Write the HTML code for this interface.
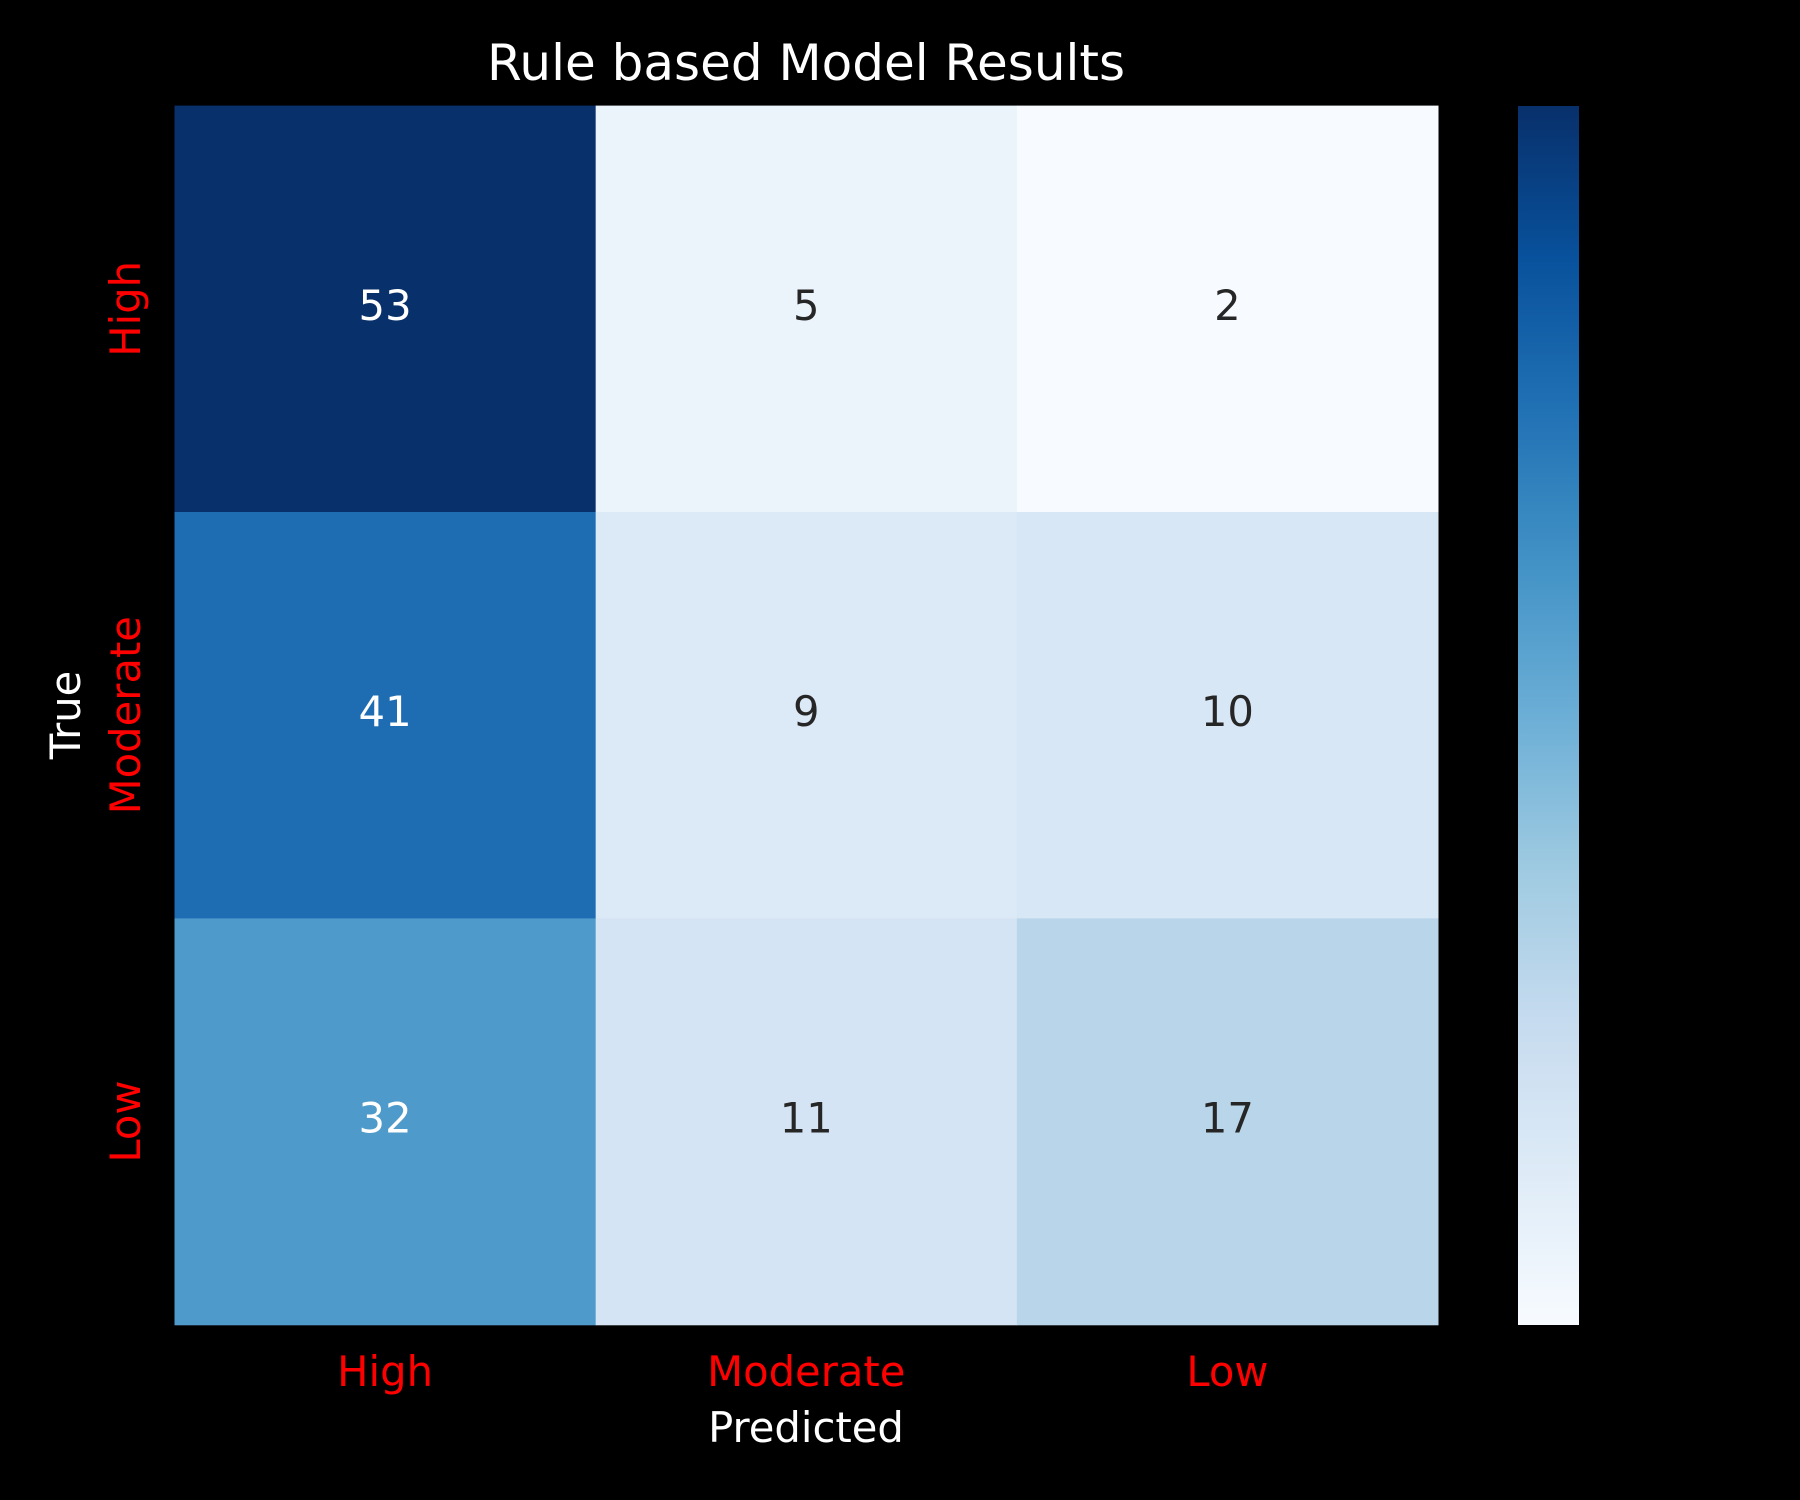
<!DOCTYPE html>
<html><head><meta charset="utf-8"><style>
html,body{margin:0;padding:0;background:#000;}
svg{display:block;font-family:"DejaVu Sans","Liberation Sans",sans-serif;}
</style></head><body>
<svg id="chart" width="1800" height="1500" viewBox="0 0 1800 1500">
<rect x="0" y="0" width="1800" height="1500" fill="#000"/>
<text x="806" y="80" fill="#fff" font-size="50" text-anchor="middle">Rule based Model Results</text>
<g id="cells"></g>
<defs><linearGradient id="cbg" x1="0" y1="1" x2="0" y2="0">
<stop offset="0" stop-color="#f7fbff"/><stop offset="0.125" stop-color="#deebf7"/><stop offset="0.25" stop-color="#c6dbef"/><stop offset="0.375" stop-color="#9ecae1"/><stop offset="0.5" stop-color="#6baed6"/><stop offset="0.625" stop-color="#4292c6"/><stop offset="0.75" stop-color="#2171b5"/><stop offset="0.875" stop-color="#08519c"/><stop offset="1" stop-color="#08306b"/>
</linearGradient></defs>
<rect x="1518" y="106" width="61" height="1219" fill="url(#cbg)"/>
<text x="806" y="1442" fill="#fff" font-size="41.7" text-anchor="middle">Predicted</text>
<text transform="translate(80,715) rotate(-90)" fill="#fff" font-size="41.7" text-anchor="middle">True</text>
</svg>
<script>
const rowLabels = ["High","Moderate","Low"];
const colLabels = ["High","Moderate","Low"];
const values = [[53,5,2],[41,9,10],[32,11,17]];
const vmin = 2, vmax = 53;
const L=174.5,R=1438,T=105.6,B=1324.8;
const stops=["#f7fbff","#deebf7","#c6dbef","#9ecae1","#6baed6","#4292c6","#2171b5","#08519c","#08306b"];
function hex(c){return [1,3,5].map(i=>parseInt(c.substr(i,2),16));}
function cmap(v){let t=(v-vmin)/(vmax-vmin);t=Math.max(0,Math.min(1,t))*8;const i=Math.min(7,Math.floor(t)),f=t-i;const a=hex(stops[i]),b=hex(stops[i+1]);return "rgb("+a.map((x,k)=>Math.round(x+(b[k]-x)*f)).join(",")+")";}
const cw=(R-L)/colLabels.length, ch=(B-T)/rowLabels.length;
const xs=j=>L+j*cw, ys=i=>T+i*ch;
const ns="http://www.w3.org/2000/svg";
const g=document.getElementById('cells');
const svg=document.getElementById('chart');
values.forEach((row,i)=>row.forEach((v,j)=>{
 const r=document.createElementNS(ns,'rect');
 r.setAttribute('x',xs(j));r.setAttribute('y',ys(i));r.setAttribute('width',cw+0.5);r.setAttribute('height',ch+0.5);
 r.setAttribute('fill',cmap(v));
 
 
 g.appendChild(r);
 const t=document.createElementNS(ns,'text');
 t.setAttribute('x',xs(j)+cw/2);t.setAttribute('y',ys(i)+ch/2+11);
 t.setAttribute('text-anchor','middle');t.setAttribute('font-size','41.7');
 t.setAttribute('fill',(v-vmin)/(vmax-vmin)>0.5?'#ffffff':'#262626');
 t.textContent=v;
 
 
 g.appendChild(t);
}));
colLabels.forEach((c,j)=>{
 const t=document.createElementNS(ns,'text');
 t.setAttribute('x',xs(j)+cw/2);t.setAttribute('y',1386);
 t.setAttribute('text-anchor','middle');t.setAttribute('font-size','41.7');t.setAttribute('fill','#ff0000');
 t.textContent=c;
 
 
 svg.appendChild(t);
});
rowLabels.forEach((c,i)=>{
 const t=document.createElementNS(ns,'text');
 const cy=ys(i)+ch/2;
 t.setAttribute('transform','translate(140,'+cy+') rotate(-90)');
 t.setAttribute('text-anchor','middle');t.setAttribute('font-size','41.7');t.setAttribute('fill','#ff0000');
 t.textContent=c;
 
 
 svg.appendChild(t);
});
</script>
</body></html>
